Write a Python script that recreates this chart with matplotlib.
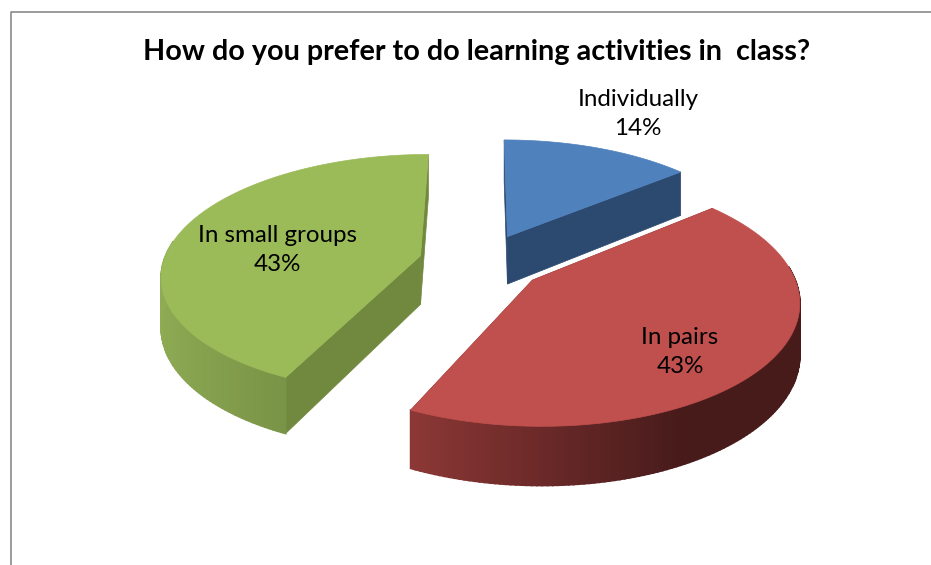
import numpy as np
import matplotlib
matplotlib.use("Agg")
import matplotlib.pyplot as plt
from matplotlib.colors import to_rgb
from matplotlib.patches import Polygon

categories = ["Individually", "In pairs", "In small groups"]
percents = [14, 43, 43]
title = "How do you prefer to do learning activities in  class?"

top_colors = ["#4f81bd", "#c0504d", "#9bbb59"]
cut_colors = ["#2c4a70", "#772c2a", "#71893f"]
wall_light = ["#3f6797", "#b84a47", "#8fac54"]
wall_dark = ["#25405f", "#481b1b", "#5a6e33"]

# Projection of the tilted, exploded pie onto the page (pixel units)
CX, CY = 481.5, 262.0
RADIUS = 257.0
TILT = 0.46
PERSP = 0.15
DEPTH = 49.0
EXPLODE = 0.245


def project(x, y, z=0.0):
    w = 1.0 + PERSP * y
    return CX + RADIUS * x / w, CY - RADIUS * TILT * y / w + DEPTH * z / w


fig = plt.figure(figsize=(9.31, 5.65), dpi=100)
ax = fig.add_axes([0, 0, 1, 1])
ax.set_xlim(0, 931)
ax.set_ylim(565, 0)
ax.axis("off")

# Chart frame: only the top and left edges fall inside the page
ax.plot([10.5, 10.5, 931], [565, 11.5, 11.5], color="#8a8a8a", lw=1.2)

fractions = np.array(percents) / sum(percents)
edges = np.concatenate([[0.0], np.cumsum(fractions)]) * 2 * np.pi

# Back slices first so the front slice overlaps them
for layer, i in enumerate([0, 2, 1]):
    start, end = edges[i], edges[i + 1]
    mid = 0.5 * (start + end)
    offset = (EXPLODE * np.sin(mid), EXPLODE * np.cos(mid))
    z = 2 + layer * 10

    theta = np.linspace(start, end, 160)
    ox, oy = offset[0] + np.sin(theta), offset[1] + np.cos(theta)
    xt, yt = project(ox, oy)
    xb, yb = project(ox, oy, 1.0)

    # Flat cut faces running from the apex to each end of the arc
    ax0, ay0 = project(*offset)
    bx0, by0 = project(*offset, 1.0)
    for k in (0, -1):
        ax.add_patch(Polygon(
            [(ax0, ay0), (xt[k], yt[k]), (xb[k], yb[k]), (bx0, by0)],
            closed=True, fc=cut_colors[i], ec=cut_colors[i], lw=0.5, zorder=z))

    # Outer wall, shaded in narrow strips from left to right
    light, dark = np.array(to_rgb(wall_light[i])), np.array(to_rgb(wall_dark[i]))
    for j in range(len(theta) - 1):
        tm = 0.5 * (theta[j] + theta[j + 1])
        if np.cos(tm) > 0.12:
            continue
        t = np.clip((0.45 - np.sin(tm)) / 1.45, 0, 1)
        col = dark + (light - dark) * t
        ax.add_patch(Polygon(
            [(xt[j], yt[j]), (xt[j + 1], yt[j + 1]),
             (xb[j + 1], yb[j + 1]), (xb[j], yb[j])],
            closed=True, fc=col, ec=col, lw=1.2, zorder=z + 1))

    # Top face
    ax.add_patch(Polygon(
        np.vstack([[ax0, ay0], np.column_stack([xt, yt])]),
        closed=True, fc=top_colors[i], ec=top_colors[i], lw=0.5, zorder=z + 2))

ax.text(476.5, 52, title, ha="center", va="center", fontsize=20.7,
        fontweight="bold", family="Lato", color="black", zorder=50)

label_pos = [(638, 114), (680, 352), (277, 250)]
for name, pct, (lx, ly) in zip(categories, percents, label_pos):
    ax.text(lx, ly, f"{name}\n{pct}%", ha="center", va="center", fontsize=17.4,
            family="Lato", color="black", linespacing=1.52, zorder=50)

fig.savefig("out.png", dpi=100, facecolor="white")
